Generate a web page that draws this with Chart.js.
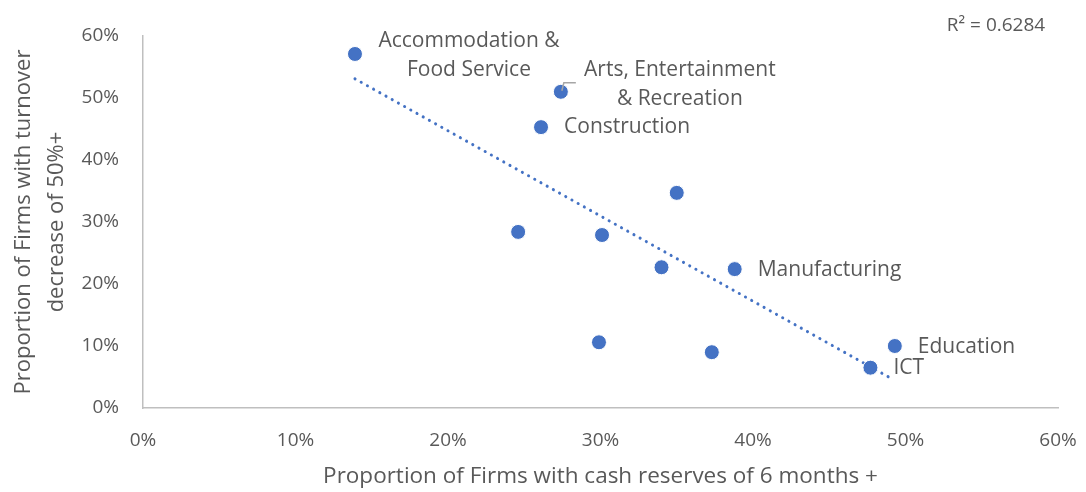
<!DOCTYPE html>
<html>
<head>
<meta charset="utf-8">
<script src="https://cdn.jsdelivr.net/npm/chart.js@4.4.1/dist/chart.umd.min.js"></script>
<style>
  html, body { margin: 0; padding: 0; background: #fff; }
  #wrap { width: 1086px; height: 492px; position: relative; }
</style>
</head>
<body>
<div id="wrap"><canvas id="scatter"></canvas></div>
<script>
// cash reserves 6 months+ (%), turnover decrease 50%+ (%)
const cashReserves = [13.9, 27.4, 26.1, 35.0, 24.6, 30.1, 34.0, 38.8, 29.9, 37.3, 49.3, 47.7];
const turnoverDrop = [57.1, 51.0, 45.3, 34.7, 28.4, 27.9, 22.7, 22.4, 10.6, 9.0, 10.0, 6.5];
const sectorNames = [
  ['Accommodation &', 'Food Service'],
  ['Arts, Entertainment', '& Recreation'],
  ['Construction'], [], [], [], [], ['Manufacturing'], [], [], ['Education'], ['ICT']
];
const trendX = [13.9, 48.9];
const trendY = [53.1, 5.0];
const rSquared = 'R² = 0.6284';

const blue = '#4472C4';
const grey = '#595959';
const fontFamily = '"Open Sans", "Noto Sans", sans-serif';

// where each label sits relative to its point: dx, dy, alignment
const labelPlace = [
  { dx: 114, dy: -13, align: 'center' },
  { dx: 119, dy: -22, align: 'center' },
  { dx: 23, dy: 0, align: 'left' },
  null, null, null, null,
  { dx: 23, dy: 1, align: 'left' },
  null, null,
  { dx: 23, dy: 1, align: 'left' },
  { dx: 23, dy: 0, align: 'left' }
];

const pointLabels = {
  id: 'pointLabels',
  afterDatasetsDraw(chart) {
    const ctx = chart.ctx;
    const meta = chart.getDatasetMeta(1);
    ctx.save();
    ctx.font = '21px ' + fontFamily;
    ctx.fillStyle = grey;
    ctx.textBaseline = 'middle';
    meta.data.forEach((pt, i) => {
      const lines = sectorNames[i];
      const place = labelPlace[i];
      if (!lines.length || !place) return;
      ctx.textAlign = place.align;
      lines.forEach((line, k) => {
        ctx.fillText(line, pt.x + place.dx, pt.y + place.dy + k * 29);
      });
    });
    // leader line for the Arts label
    const arts = meta.data[1];
    ctx.strokeStyle = '#A6A6A6';
    ctx.lineWidth = 1.5;
    ctx.beginPath();
    ctx.moveTo(arts.x + 1, arts.y - 1);
    ctx.lineTo(arts.x + 3, arts.y - 9);
    ctx.lineTo(arts.x + 15, arts.y - 9);
    ctx.stroke();
    // R² text
    ctx.font = '19px ' + fontFamily;
    ctx.textAlign = 'center';
    ctx.fillText(rSquared, 996, 26);
    ctx.restore();
  }
};

new Chart(document.getElementById('scatter'), {
  type: 'scatter',
  data: {
    datasets: [
      {
        type: 'line',
        label: 'Trend',
        data: trendX.map((x, i) => ({ x: x, y: trendY[i] })),
        borderColor: blue,
        borderWidth: 3,
        borderDash: [0.1, 7],
        borderCapStyle: 'round',
        pointRadius: 0,
        fill: false,
        order: 2
      },
      {
        label: 'Sectors',
        data: cashReserves.map((x, i) => ({ x: x, y: turnoverDrop[i] })),
        backgroundColor: blue,
        borderColor: '#fff',
        borderWidth: 1,
        pointRadius: 7.5,
        order: 1
      }
    ]
  },
  options: {
    responsive: true,
    maintainAspectRatio: false,
    animation: false,
    layout: { padding: { top: 36, right: 28, left: 7, bottom: 2 } },
    plugins: { legend: { display: false }, tooltip: { enabled: false } },
    scales: {
      x: {
        type: 'linear',
        min: 0, max: 60,
        grid: { display: false, drawTicks: false },
        border: { color: '#BFBFBF', width: 1.5 },
        ticks: {
          stepSize: 10,
          padding: 21,
          color: grey,
          font: { family: fontFamily, size: 19 },
          callback: v => v + '%'
        },
        title: {
          display: true,
          text: 'Proportion of Firms with cash reserves of 6 months +',
          color: grey,
          font: { family: fontFamily, size: 22.5 },
          padding: { top: 10, bottom: 0 }
        },
        afterFit(scale) {
          scale.height = 82;
          scale.paddingLeft = 0;
          scale.paddingRight = 0;
        }
      },
      y: {
        min: 0, max: 60,
        grid: { display: false, drawTicks: false },
        border: { color: '#BFBFBF', width: 1.5 },
        ticks: {
          stepSize: 10,
          padding: 24,
          color: grey,
          font: { family: fontFamily, size: 19 },
          callback: v => v + '%'
        },
        title: {
          display: true,
          text: ['Proportion of Firms with turnover', 'decrease of 50%+'],
          color: grey,
          font: { family: fontFamily, size: 22, lineHeight: 1.5 },
          padding: { top: 0, bottom: 0 }
        },
        afterFit(scale) {
          scale.width = 136;
          scale.paddingTop = 0;
          scale.paddingBottom = 0;
        }
      }
    }
  },
  plugins: [pointLabels]
});
</script>
</body>
</html>
